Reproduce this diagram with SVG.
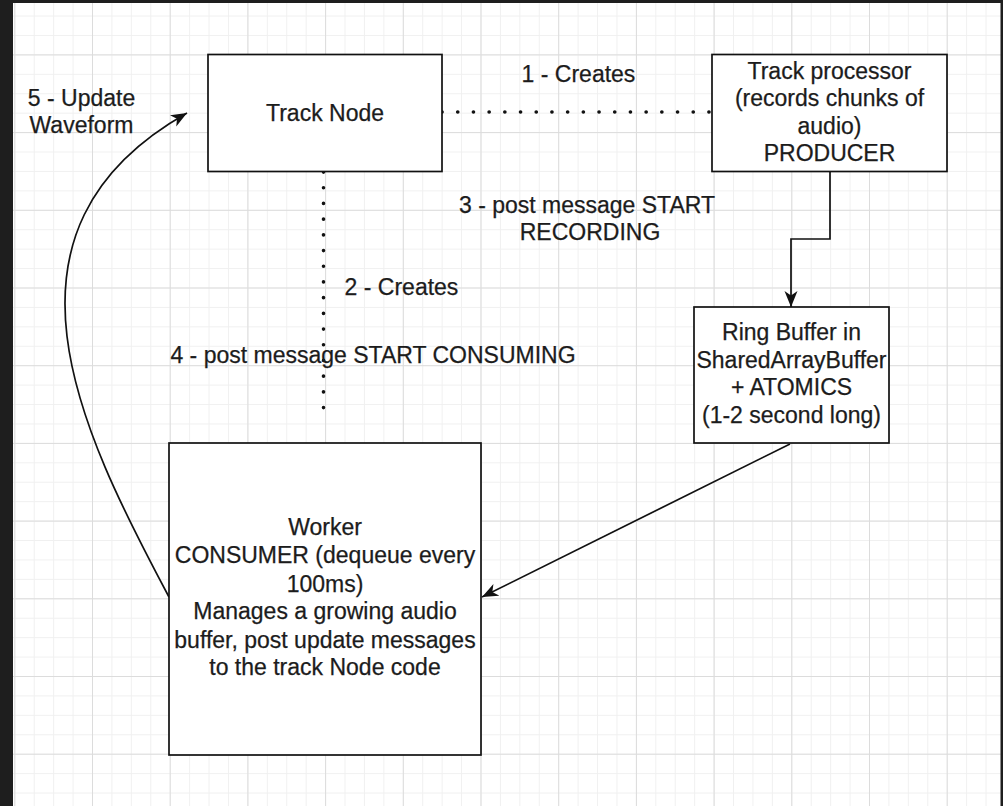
<svg xmlns="http://www.w3.org/2000/svg" width="1003" height="806" viewBox="0 0 1003 806">
<style>
.box{fill:#fff;stroke:#111;stroke-width:1.7}
.t{font-family:"Liberation Sans",Arial,sans-serif;font-size:23px;fill:#1c1c1c;stroke:#1c1c1c;stroke-width:0.25;text-anchor:middle}
.edge{fill:none;stroke:#111;stroke-width:1.7}
.dot{fill:none;stroke:#111;stroke-width:3.6;stroke-linecap:round;stroke-dasharray:0.1 15.6}
</style>
<defs>
<pattern id="minor" x="14.3" y="-23.3" width="19.425" height="19.425" patternUnits="userSpaceOnUse">
<path d="M0,0.5 H19.425 M0.5,0 V19.425" fill="none" stroke="#f0f0f0" stroke-width="1"/>
</pattern>
<pattern id="major" x="14.3" y="-23.3" width="77.7" height="77.7" patternUnits="userSpaceOnUse">
<path d="M0,0.5 H77.7 M0.5,0 V77.7" fill="none" stroke="#dcdcdc" stroke-width="1"/>
</pattern>
<marker id="arr" markerUnits="userSpaceOnUse" markerWidth="18" markerHeight="14" refX="16" refY="7" orient="auto" viewBox="0 0 18 14">
<path d="M0,0.5 L16,7 L0,13.5 L4.5,7 z" fill="#111"/>
</marker>
</defs>
<rect x="0" y="0" width="1003" height="806" fill="#fff"/>
<rect x="0" y="0" width="1003" height="806" fill="url(#minor)"/>
<rect x="0" y="0" width="1003" height="806" fill="url(#major)"/>
<path d="M0,0 H1003 V806 H1000.5 V3 H13 V806 H0 Z" fill="#1e1e1e"/>

<g id="connectors">
<path class="dot" d="M442,112 H712"/>
<path class="dot" d="M323.5,172 V422"/>
<path class="edge" d="M830,171 V239 H791 V307" marker-end="url(#arr)"/>
<path class="edge" d="M790,444 L482,597" marker-end="url(#arr)"/>
<path class="edge" d="M169,597 C80,430 -20,230 187,113" marker-end="url(#arr)"/>
</g>

<g id="track-node">
<rect class="box" x="208" y="54.5" width="234" height="117"/>
<text class="t" x="325" y="121">Track Node</text>
</g>

<g id="track-processor">
<rect class="box" x="712" y="54.5" width="235" height="117"/>
<text class="t" x="829.5" y="78.5">Track processor</text>
<text class="t" x="829.5" y="106">(records chunks of</text>
<text class="t" x="829.5" y="133.5">audio)</text>
<text class="t" x="829.5" y="161">PRODUCER</text>
</g>

<g id="ring-buffer">
<rect class="box" x="694" y="307" width="195" height="136"/>
<text class="t" x="791.5" y="340">Ring Buffer in</text>
<text class="t" x="791.5" y="368">SharedArrayBuffer</text>
<text class="t" x="791.5" y="395">+ ATOMICS</text>
<text class="t" x="791.5" y="423">(1-2 second long)</text>
</g>

<g id="worker">
<rect class="box" x="169" y="443" width="312" height="312"/>
<text class="t" x="325" y="535">Worker</text>
<text class="t" x="325" y="563">CONSUMER (dequeue every</text>
<text class="t" x="325" y="592">100ms)</text>
<text class="t" x="325" y="619">Manages a growing audio</text>
<text class="t" x="325" y="648">buffer, post update messages</text>
<text class="t" x="325" y="675">to the track Node code</text>
</g>

<g id="labels">
<text class="t" x="578.5" y="81.5">1 - Creates</text>
<text class="t" x="587" y="213">3 - post message START</text>
<text class="t" x="590" y="240">RECORDING</text>
<text class="t" x="401.5" y="295">2 - Creates</text>
<text class="t" x="373" y="363">4 - post message START CONSUMING</text>
<text class="t" x="81.5" y="106">5 - Update</text>
<text class="t" x="81.5" y="133">Waveform</text>
</g>
</svg>
